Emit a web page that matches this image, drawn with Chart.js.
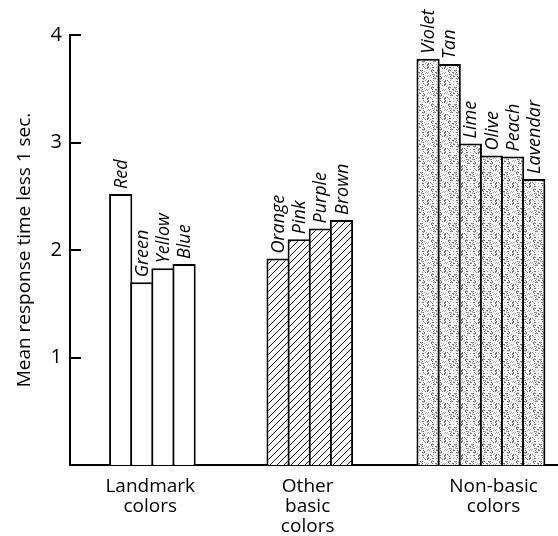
<!DOCTYPE html>
<html>
<head>
<meta charset="utf-8">
<script src="https://cdn.jsdelivr.net/npm/chart.js@4"></script>
<style>
  html, body { margin: 0; padding: 0; background: #fff; }
  canvas { display: block; }
</style>
</head>
<body>
<canvas id="chart" width="558" height="536"></canvas>
<script>
// --------- Data ---------
const groupLabels = [['Landmark', 'colors'], ['Other', 'basic', 'colors'], ['Non-basic', 'colors']];

const landmarkNames = ['Red', 'Green', 'Yellow', 'Blue'];
const landmarkValues = [2.52, 1.70, 1.83, 1.87];

const otherNames = ['Orange', 'Pink', 'Purple', 'Brown'];
const otherValues = [1.92, 2.10, 2.20, 2.28];

const nonBasicNames = ['Violet', 'Tan', 'Lime', 'Olive', 'Peach', 'Lavendar'];
const nonBasicValues = [3.78, 3.73, 2.99, 2.88, 2.87, 2.66];

const yTicks = [1, 2, 3, 4];

// --------- Layout (in bar-width units along x) ---------
const groupStart = [1.9, 9.35, 16.45];
const labelPos = [3.8, 11.25, 20.05];
const X_MAX = 23.1;
const FONT = '"Open Sans", "Noto Sans", sans-serif';

// --------- Fill patterns ---------
const makeHatch = () => {
    const c = document.createElement('canvas');
    c.width = 7; c.height = 7;
    const g = c.getContext('2d');
    g.fillStyle = '#fff';
    g.fillRect(0, 0, 7, 7);
    g.strokeStyle = '#111';
    g.lineWidth = 1;
    g.beginPath();
    g.moveTo(-1, 8); g.lineTo(8, -1);
    g.moveTo(-1, 1); g.lineTo(1, -1);
    g.moveTo(6, 8); g.lineTo(8, 6);
    g.stroke();
    return g.createPattern(c, 'repeat');
};

// grainy light-grey screen, a fixed scatter of dots
const makeStipple = () => {
    const size = 17;
    const c = document.createElement('canvas');
    c.width = size; c.height = size;
    const g = c.getContext('2d');
    g.fillStyle = '#f4f4f4';
    g.fillRect(0, 0, size, size);
    for (let x = 0; x < size; x++) {
        for (let y = 0; y < size; y++) {
            const h = (x * x * 7 + y * y * 11 + x * y * 5 + x * 3) % 17;
            if (h < 4) {
                g.fillStyle = h < 2 ? '#6e6e6e' : '#a8a8a8';
                g.fillRect(x, y, 1, 1);
            }
        }
    }
    return g.createPattern(c, 'repeat');
};

const toPoints = (values, start) => values.map((v, i) => ({ x: start + 0.5 + i, y: v }));

const barDataset = (names, values, start, fill) => ({
    names: names,
    data: toPoints(values, start),
    backgroundColor: fill,
    borderColor: '#000',
    borderWidth: 2,
    borderSkipped: 'bottom',
    barPercentage: 1.1,
    categoryPercentage: 1,
    grouped: false
});

// --------- Plugins ---------
const barLabels = {
    id: 'barLabels',
    afterDatasetsDraw(chart) {
        const ctx = chart.ctx;
        chart.data.datasets.forEach((ds, di) => {
            chart.getDatasetMeta(di).data.forEach((bar, i) => {
                ctx.save();
                ctx.translate(bar.x + 1, bar.y - 5);
                ctx.rotate(-Math.PI / 2);
                ctx.font = 'italic 18px ' + FONT;
                ctx.fillStyle = '#000';
                ctx.textAlign = 'left';
                ctx.textBaseline = 'middle';
                ctx.fillText(ds.names[i], 0, 0);
                ctx.restore();
            });
        });
    }
};

const innerTicks = {
    id: 'innerTicks',
    afterDatasetsDraw(chart) {
        const ctx = chart.ctx;
        const y = chart.scales.y;
        const left = chart.chartArea.left;
        ctx.save();
        ctx.strokeStyle = '#000';
        ctx.lineWidth = 2;
        yTicks.forEach((t) => {
            const py = Math.round(y.getPixelForValue(t));
            ctx.beginPath();
            ctx.moveTo(left, py);
            ctx.lineTo(left + 11, py);
            ctx.stroke();
        });
        ctx.restore();
    }
};

// --------- Chart ---------
const chart = new Chart(document.getElementById('chart'), {
    type: 'bar',
    data: {
        datasets: [
            barDataset(landmarkNames, landmarkValues, groupStart[0], '#fff'),
            barDataset(otherNames, otherValues, groupStart[1], makeHatch()),
            barDataset(nonBasicNames, nonBasicValues, groupStart[2], makeStipple())
        ]
    },
    options: {
        responsive: false,
        devicePixelRatio: 1,
        animation: false,
        layout: { padding: { top: 35, right: 0, bottom: 2, left: 0 } },
        plugins: {
            legend: { display: false },
            tooltip: { enabled: false }
        },
        scales: {
            x: {
                type: 'linear',
                offset: false,
                min: 0,
                max: X_MAX,
                grid: { display: false, drawTicks: false },
                border: { display: true, color: '#000', width: 2 },
                afterFit: (scale) => { scale.height = 69; },
                afterBuildTicks: (scale) => {
                    scale.ticks = labelPos.map((v) => ({ value: v }));
                },
                ticks: {
                    autoSkip: false,
                    maxRotation: 0,
                    padding: 12,
                    color: '#000',
                    font: { family: FONT, size: 19, lineHeight: 1.05 },
                    callback: (value, index) => groupLabels[index]
                }
            },
            y: {
                min: 0,
                max: 4,
                grid: { display: false, drawTicks: false },
                border: { display: true, color: '#000', width: 2 },
                afterFit: (scale) => { scale.width = 70; },
                afterBuildTicks: (scale) => {
                    scale.ticks = yTicks.map((v) => ({ value: v }));
                },
                ticks: {
                    padding: 8,
                    color: '#000',
                    font: { family: FONT, size: 20, weight: '500' }
                },
                title: {
                    display: true,
                    text: 'Mean response time less 1 sec.',
                    color: '#000',
                    padding: { top: 13, bottom: 0 },
                    font: { family: FONT, size: 19 }
                }
            }
        }
    },
    plugins: [barLabels, innerTicks]
});
</script>
</body>
</html>
